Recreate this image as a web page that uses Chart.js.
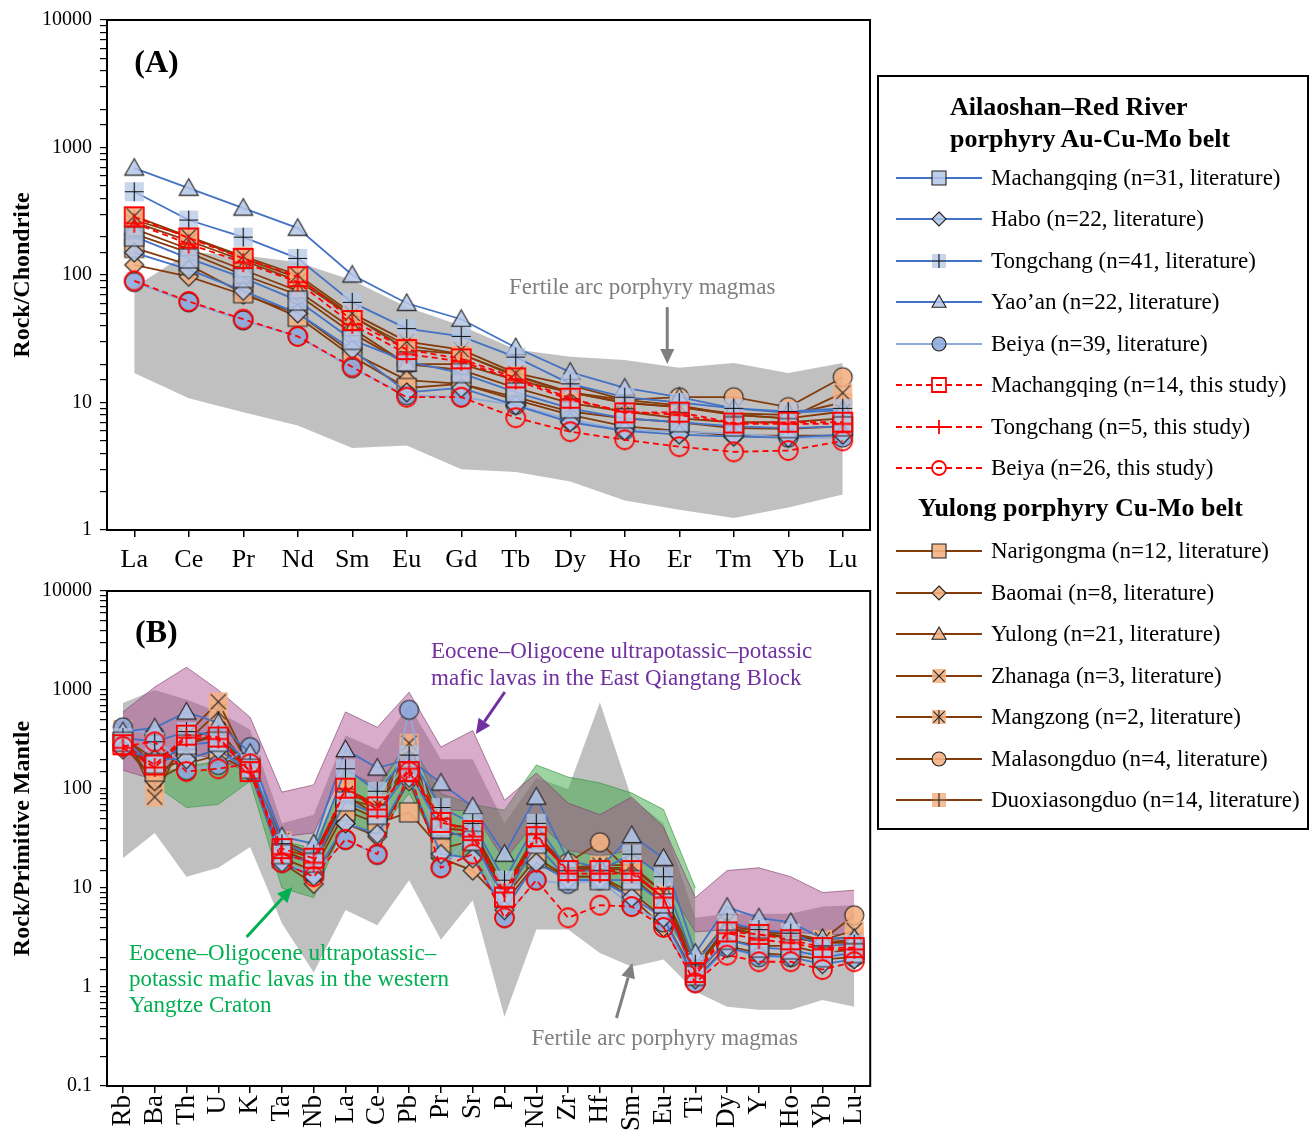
<!DOCTYPE html>
<html>
<head>
<meta charset="utf-8">
<script src="https://cdn.jsdelivr.net/npm/chart.js@4.4.1/dist/chart.umd.min.js"></script>
<style>
  html, body { margin: 0; padding: 0; background: #fff; }
  body { width: 1311px; height: 1136px; position: relative; overflow: hidden; font-family: "Liberation Serif", "Times New Roman", serif; }
  .panel { position: absolute; left: 0; width: 878px; }
  #panelA { top: 0; height: 580px; }
  #panelB { top: 570px; height: 566px; }
  #legend { position: absolute; left: 877px; top: 75px; width: 432px; height: 755px; border: 2px solid #000; box-sizing: border-box; }
  #legend .head { position: absolute; font-weight: bold; font-size: 26px; line-height: 30px; white-space: nowrap; color: #000; }
  #legend .item { position: absolute; left: 17px; height: 26px; display: flex; align-items: center; white-space: nowrap; font-size: 23px; color: #000; }
  #legend .item canvas { width: 86px; height: 22px; margin-right: 9px; }
</style>
</head>
<body>
<div id="panelA" class="panel"><canvas id="chartA"></canvas></div>
<div id="panelB" class="panel"><canvas id="chartB"></canvas></div>
<div id="legend"></div>
<script>
// ---- REE, chondrite normalised (panel A) ----
const reeLabels = ['La', 'Ce', 'Pr', 'Nd', 'Sm', 'Eu', 'Gd', 'Tb', 'Dy', 'Ho', 'Er', 'Tm', 'Yb', 'Lu'];

const reeMachangqingLit = [200, 135, 95, 63, 31, 21, 17, 12, 9, 7.5, 7, 6.5, 6.3, 6.5];
const reeHabo = [150, 110, 75, 50, 26, 12, 13, 9.5, 7, 6, 5.6, 5.4, 5.3, 5.6];
const reeTongchangLit = [450, 270, 198, 135, 61, 38, 33, 22.7, 14, 11, 10, 9, 8.5, 9];
const reeYaoan = [690, 480, 335, 233, 100, 60, 45, 27, 17.3, 13, 11, 9, 8.3, 8.7];
const reeBeiyaLit = [88, 61, 44, 33, 18.6, 11.4, 11, 9.6, 7.3, 6.1, 5.9, 5.7, 5.3, 5.3];
const reeMachangqingThis = [286, 195, 135, 97, 44, 26, 22, 15.6, 10.8, 8.3, 8.4, 6.9, 7, 7];
const reeTongchangThis = [255, 175, 125, 88, 41, 24, 21, 15, 10.5, 8.5, 8, 6.8, 6.8, 6.8];
const reeBeiyaThis = [90, 62, 45, 33, 19, 11, 11, 7.6, 5.9, 5.1, 4.5, 4.1, 4.2, 5];
const reeNarigongma = [163, 120, 72, 47, 23, 13, 14, 11, 8.5, 7.5, 7, 6.3, 6.2, 6.5];
const reeBaomai = [120, 97, 70, 50, 24.5, 15, 14, 10.5, 8, 6.5, 6, 5.5, 5.5, 5.5];
const reeYulong = [230, 160, 110, 75, 38, 20, 18, 13, 9.9, 8.5, 7.5, 7, 7, 7.5];
const reeZhanaga = [290, 200, 140, 100, 50, 30, 26, 17, 13.7, 10.5, 9.5, 8, 7.5, 11.9];
const reeMangzong = [260, 185, 130, 90, 47, 28, 24, 16, 12, 9.9, 9.2, 8, 7.5, 8.5];
const reeMalasongduo = [210, 150, 100, 70, 35, 20, 20, 15, 12, 10.5, 11, 11, 9.2, 15.8];
const reeDuoxiasongduo = [270, 200, 135, 95, 48, 26, 24, 16.4, 12, 10, 9.2, 8.2, 8, 10];

const reeFertileUpper = [80, 151, 143, 126, 91, 56, 40, 26, 22.8, 21.5, 18.7, 20.4, 17, 20.4];
const reeFertileLower = [17, 10.8, 8.4, 6.6, 4.4, 4.6, 3, 2.85, 2.4, 1.7, 1.44, 1.24, 1.5, 1.9];

// ---- trace elements, primitive mantle normalised (panel B) ----
const teLabels = ['Rb', 'Ba', 'Th', 'U', 'K', 'Ta', 'Nb', 'La', 'Ce', 'Pb', 'Pr', 'Sr', 'P', 'Nd', 'Zr', 'Hf', 'Sm', 'Eu', 'Ti', 'Dy', 'Y', 'Ho', 'Yb', 'Lu'];

const teMachangqingLit = [300, 180, 280, 300, 160, 22, 18, 75, 55, 150, 40, 30, 8, 28, 12, 12, 12, 7, 1.3, 3, 2.5, 2.4, 2, 2.2];
const teHabo = [250, 200, 200, 250, 150, 18, 13, 45, 35, 130, 22, 20, 6, 18, 12, 12, 8, 5, 1.2, 2.5, 2.1, 2, 1.7, 1.9];
const teTongchangLit = [330, 300, 380, 350, 180, 28, 22, 160, 95, 220, 65, 45, 12, 45, 15, 15, 22, 13, 1.7, 4.5, 3.8, 3.5, 2.6, 2.7];
const teYaoan = [380, 415, 600, 465, 230, 33, 28, 250, 163, 200, 115, 66, 22, 83, 19, 16, 34, 20, 2.2, 6.4, 5, 4.5, 3.1, 3.1];
const teBeiyaLit = [420, 350, 155, 175, 265, 18, 14, 30.5, 21.6, 630, 16, 36, 5, 12, 11, 12, 6.5, 4.5, 1.1, 2.5, 2, 2, 2.4, 2];
const teMachangqingThis = [280, 175, 350, 335, 150, 25, 20, 102, 66, 150, 46, 38, 8.1, 33, 15, 15, 15, 7.9, 1.4, 3.6, 3.4, 3, 2.5, 2.5];
const teTongchangThis = [260, 165, 330, 320, 150, 22, 18, 100, 62, 160, 50, 33, 9, 35, 14, 14, 14, 8, 1.3, 3.5, 3, 2.8, 2.4, 2.4];
const teBeiyaThis = [270, 300, 150, 160, 180, 18, 13, 31, 22, 150, 16, 22, 5, 12, 5, 6.7, 6.5, 4, 1.1, 2.1, 1.8, 1.8, 1.5, 1.8];
const teNarigongma = [300, 150, 200, 250, 170, 20, 15, 60, 45, 58, 25, 30, 8, 20, 13, 13, 9, 5, 1.3, 3, 2.6, 2.6, 2.2, 2.4];
const teBaomai = [280, 120, 180, 220, 150, 18, 11, 45, 33, 120, 20, 15, 7, 18, 13, 13, 8, 4, 1.2, 2.6, 2.2, 2.1, 1.9, 2];
const teYulong = [330, 200, 300, 350, 170, 25, 20, 85, 55, 180, 40, 38, 9, 35, 16, 16, 13, 7, 1.5, 4, 3.4, 3.2, 2.8, 2.8];
const teZhanaga = [400, 83, 350, 760, 170, 30, 22, 90, 70, 290, 45, 40, 10, 35, 16, 17, 17, 9, 1.8, 4.5, 3.7, 3.5, 3, 3.7];
const teMangzong = [350, 110, 300, 600, 170, 28, 20, 80, 65, 250, 40, 38, 9, 32, 15, 16, 15, 8, 1.6, 4, 3.3, 3.2, 2.8, 3];
const teMalasongduo = [350, 170, 280, 350, 160, 25, 17, 70, 50, 200, 35, 35, 8, 28, 18, 29, 14, 8, 1.5, 3.8, 3.5, 3.2, 3, 5.3];
const teDuoxiasongduo = [320, 150, 320, 400, 160, 24, 18, 100, 70, 180, 45, 40, 9, 35, 15, 16, 16, 9, 1.5, 4.2, 3.6, 3.4, 3, 3.2];

const teFertileUpper = [740, 1000, 800, 600, 400, 45, 55, 350, 250, 700, 200, 200, 45, 130, 100, 750, 80, 45, 5, 5.5, 5.5, 5.5, 6.5, 6.7];
const teFertileLower = [20, 36, 13, 16, 26, 4.4, 1.4, 6, 4.2, 12, 3, 7.5, 0.5, 3.8, 3.8, 2.2, 1.6, 1.9, 0.9, 0.63, 0.59, 0.59, 0.74, 0.63];
const teQiangtangUpper = [600, 1070, 1700, 1000, 530, 93, 110, 600, 420, 950, 265, 390, 77, 145, 72, 55, 83, 41, 8, 15, 16, 13, 9, 9.5];
const teQiangtangLower = [155, 124, 230, 200, 145, 33, 36, 165, 98, 310, 62, 60, 19, 48, 24, 21, 24, 12, 3.6, 3.8, 3.8, 3.6, 3.4, 3.4];
const teYangtzeUpper = [null, 140, 170, 190, 220, 30, 25, 150, 110, 300, 90, 70, 61, 175, 132, 115, 91, 62, 10, null, null, null, null, null];
const teYangtzeLower = [null, 110, 65, 70, 120, 10, 8, 48, 35, 90, 25, 18, 8, 20, 12, 12, 9, 5, 1.8, null, null, null, null, null];

// ---- styles ----
const FONT = '"Liberation Serif", "Times New Roman", serif';
const BLUE = '#4472c4', BLUE_LIGHT = '#8eaadb', RED = '#ff0000', BROWN = '#843c0c';
const BLUE_FILL = 'rgba(180,199,231,0.85)', BLUE_BOX = 'rgba(180,199,231,0.75)', BLUE_DOT = 'rgba(143,170,220,0.9)';
const ORANGE_FILL = 'rgba(244,177,131,0.9)', ORANGE_BOX = 'rgba(244,177,131,0.85)';

function marker(shape, fill, edge, size, lw) {
  const pad = 2;
  const c = document.createElement('canvas');
  c.width = c.height = Math.ceil(size + pad * 2);
  const g = c.getContext('2d');
  const m = c.width / 2, h = size / 2;
  g.lineWidth = lw;
  g.strokeStyle = edge;
  g.fillStyle = fill;
  const plus = () => { g.beginPath(); g.moveTo(m, m - h); g.lineTo(m, m + h); g.moveTo(m - h, m); g.lineTo(m + h, m); g.stroke(); };
  const cross = () => { const k = h * 0.8; g.beginPath(); g.moveTo(m - k, m - k); g.lineTo(m + k, m + k); g.moveTo(m + k, m - k); g.lineTo(m - k, m + k); g.stroke(); };
  g.beginPath();
  switch (shape) {
    case 'square': g.rect(m - h, m - h, size, size); g.fill(); g.stroke(); break;
    case 'openSquare': g.rect(m - h, m - h, size, size); g.stroke(); break;
    case 'diamond': g.moveTo(m, m - h); g.lineTo(m + h, m); g.lineTo(m, m + h); g.lineTo(m - h, m); g.closePath(); g.fill(); g.stroke(); break;
    case 'triangle': g.moveTo(m, m - h); g.lineTo(m + h, m + h * 0.75); g.lineTo(m - h, m + h * 0.75); g.closePath(); g.fill(); g.stroke(); break;
    case 'circle': g.arc(m, m, h, 0, Math.PI * 2); g.fill(); g.stroke(); break;
    case 'openCircle': g.arc(m, m, h, 0, Math.PI * 2); g.stroke(); break;
    case 'plus': plus(); break;
    case 'plusBox': g.fillRect(m - h, m - h, size, size); plus(); break;
    case 'xBox': g.fillRect(m - h, m - h, size, size); cross(); break;
    case 'starBox': g.fillRect(m - h, m - h, size, size); cross(); g.beginPath(); g.moveTo(m, m - h); g.lineTo(m, m + h); g.stroke(); break;
  }
  return c;
}

const series = [
  { name: 'Machangqing (n=31, literature)', ree: reeMachangqingLit, te: teMachangqingLit, shape: 'square', fill: BLUE_FILL, edge: '#222', line: BLUE, dash: [], order: 2 },
  { name: 'Habo (n=22, literature)', ree: reeHabo, te: teHabo, shape: 'diamond', fill: BLUE_FILL, edge: '#222', line: BLUE, dash: [], order: 2 },
  { name: 'Tongchang (n=41, literature)', ree: reeTongchangLit, te: teTongchangLit, shape: 'plusBox', fill: BLUE_BOX, edge: '#111', line: BLUE, dash: [], order: 2 },
  { name: 'Yao\u2019an (n=22, literature)', ree: reeYaoan, te: teYaoan, shape: 'triangle', fill: BLUE_FILL, edge: '#222', line: BLUE, dash: [], order: 2 },
  { name: 'Beiya (n=39, literature)', ree: reeBeiyaLit, te: teBeiyaLit, shape: 'circle', fill: BLUE_DOT, edge: '#222', line: BLUE_LIGHT, dash: [], order: 2 },
  { name: 'Machangqing (n=14, this study)', ree: reeMachangqingThis, te: teMachangqingThis, shape: 'openSquare', fill: 'rgba(0,0,0,0)', edge: RED, line: RED, dash: [6, 4], order: 1 },
  { name: 'Tongchang (n=5, this study)', ree: reeTongchangThis, te: teTongchangThis, shape: 'plus', fill: 'rgba(0,0,0,0)', edge: RED, line: RED, dash: [6, 4], order: 1 },
  { name: 'Beiya (n=26, this study)', ree: reeBeiyaThis, te: teBeiyaThis, shape: 'openCircle', fill: 'rgba(0,0,0,0)', edge: RED, line: RED, dash: [6, 4], order: 1 },
  { name: 'Narigongma (n=12, literature)', ree: reeNarigongma, te: teNarigongma, shape: 'square', fill: ORANGE_FILL, edge: '#222', line: BROWN, dash: [], order: 3 },
  { name: 'Baomai (n=8, literature)', ree: reeBaomai, te: teBaomai, shape: 'diamond', fill: ORANGE_FILL, edge: '#222', line: BROWN, dash: [], order: 3 },
  { name: 'Yulong (n=21, literature)', ree: reeYulong, te: teYulong, shape: 'triangle', fill: ORANGE_FILL, edge: '#222', line: BROWN, dash: [], order: 3 },
  { name: 'Zhanaga (n=3, literature)', ree: reeZhanaga, te: teZhanaga, shape: 'xBox', fill: ORANGE_BOX, edge: '#222', line: BROWN, dash: [], order: 3 },
  { name: 'Mangzong (n=2, literature)', ree: reeMangzong, te: teMangzong, shape: 'starBox', fill: ORANGE_BOX, edge: '#222', line: BROWN, dash: [], order: 3 },
  { name: 'Malasongduo (n=4, literature)', ree: reeMalasongduo, te: teMalasongduo, shape: 'circle', fill: ORANGE_FILL, edge: '#222', line: BROWN, dash: [], order: 3 },
  { name: 'Duoxiasongduo (n=14, literature)', ree: reeDuoxiasongduo, te: teDuoxiasongduo, shape: 'plusBox', fill: ORANGE_BOX, edge: '#222', line: BROWN, dash: [], order: 3 }
];

series.forEach(s => {
  const lw = s.edge === RED ? 1.8 : 1.1;
  s.big = marker(s.shape, s.fill, s.edge, 19, lw);
  s.small = marker(s.shape, s.fill, s.edge, 14, lw);
});

function lineSets(key) {
  return series.map(s => ({
    label: s.name,
    data: s[key],
    borderColor: s.line,
    borderWidth: 1.8,
    borderDash: s.dash,
    pointStyle: s.big,
    pointRadius: 6,
    fill: false,
    tension: 0,
    order: s.order
  }));
}

function band(upper, lower, color, edge, order) {
  return [
    { data: upper, fill: '+1', backgroundColor: color, borderColor: edge, borderWidth: edge ? 1 : 0, pointRadius: 0, order },
    { data: lower, fill: false, borderColor: edge, borderWidth: edge ? 1 : 0, pointRadius: 0, order }
  ];
}

const isPow10 = v => Math.abs(Math.log10(v) - Math.round(Math.log10(v))) < 1e-9;

function axisX(rotate) {
  return {
    type: 'category', offset: true,
    grid: { display: true, drawOnChartArea: false, offset: false, tickLength: 7, color: '#000', lineWidth: 1.5 },
    border: { display: true, color: '#000', width: 2 },
    ticks: { color: '#000', font: { family: FONT, size: rotate ? 27 : 26 }, padding: rotate ? 2 : 8, autoSkip: false, minRotation: rotate ? 90 : 0, maxRotation: rotate ? 90 : 0 },
    afterFit: s => { s.height = 50; s.paddingLeft = 0; s.paddingRight = 0; }
  };
}

function axisY(min, max, title) {
  return {
    type: 'logarithmic', min, max,
    grid: { display: true, drawOnChartArea: false, tickLength: 7, color: '#000', lineWidth: 1.2 },
    border: { display: true, color: '#000', width: 2 },
    ticks: { autoSkip: false, color: '#000', font: { family: FONT, size: 20 }, padding: 8, callback: v => (isPow10(v) ? String(v) : '') },
    title: { display: true, text: title, color: '#000', font: { family: FONT, size: 24, weight: 'bold' }, padding: { top: 8, bottom: 0 } },
    afterFit: s => { s.width = 107; }
  };
}

const framePlugin = {
  id: 'frame',
  afterDraw(chart) {
    const a = chart.chartArea, ctx = chart.ctx;
    ctx.save();
    ctx.strokeStyle = '#000';
    ctx.lineWidth = 2;
    ctx.strokeRect(a.left, a.top, a.right - a.left, a.bottom - a.top);
    ctx.restore();
  }
};

function notesPlugin(notes) {
  return {
    id: 'notes',
    afterDatasetsDraw(chart) {
      const ctx = chart.ctx, sx = chart.scales.x, sy = chart.scales.y;
      const at = (i, v) => [sx.getPixelForValue(i), sy.getPixelForValue(v)];
      ctx.save();
      notes.forEach(n => {
        if (n.text) {
          const [px, py] = at(n.i, n.v);
          ctx.font = n.font;
          ctx.fillStyle = n.color;
          ctx.textAlign = n.align || 'left';
          ctx.textBaseline = 'alphabetic';
          n.text.forEach((line, k) => ctx.fillText(line, px, py + k * (n.lh || 0)));
        } else {
          const [x1, y1] = at(n.from[0], n.from[1]);
          const [x2, y2] = at(n.to[0], n.to[1]);
          const ang = Math.atan2(y2 - y1, x2 - x1), L = 15, W = 7;
          const bx = x2 - L * Math.cos(ang), by = y2 - L * Math.sin(ang);
          ctx.strokeStyle = n.color;
          ctx.fillStyle = n.color;
          ctx.lineWidth = 3;
          ctx.beginPath(); ctx.moveTo(x1, y1); ctx.lineTo(bx, by); ctx.stroke();
          ctx.beginPath();
          ctx.moveTo(x2, y2);
          ctx.lineTo(bx + W * Math.sin(ang), by - W * Math.cos(ang));
          ctx.lineTo(bx - W * Math.sin(ang), by + W * Math.cos(ang));
          ctx.closePath(); ctx.fill();
        }
      });
      ctx.restore();
    }
  };
}

const GREY_TXT = '#7f7f7f', PURPLE = '#7030a0', GREEN = '#00b050';
const NOTE_FONT = '23px ' + FONT, TAG_FONT = 'bold 32px ' + FONT;

const notesA = [
  { text: ['(A)'], i: 0, v: 3900, font: TAG_FONT, color: '#000' },
  { text: ['Fertile arc porphyry magmas'], i: 9.32, v: 71, font: NOTE_FONT, color: GREY_TXT, align: 'center' },
  { from: [9.78, 56], to: [9.78, 20], color: GREY_TXT }
];

const notesB = [
  { text: ['(B)'], i: 0.38, v: 3050, font: TAG_FONT, color: '#000' },
  { text: ['Eocene\u2013Oligocene ultrapotassic\u2013potassic', 'mafic lavas in the East Qiangtang Block'], i: 9.69, v: 2104, lh: 27, font: NOTE_FONT, color: PURPLE },
  { from: [12.01, 955], to: [11.1, 359], color: PURPLE },
  { text: ['Eocene\u2013Oligocene ultrapotassic\u2013', 'potassic mafic lavas in the western', 'Yangtze Craton'], i: 0.19, v: 1.87, lh: 26, font: NOTE_FONT, color: GREEN },
  { from: [3.89, 3.2], to: [5.33, 10.2], color: GREEN },
  { text: ['Fertile arc porphyry magmas'], i: 12.85, v: 0.26, font: NOTE_FONT, color: GREY_TXT },
  { from: [15.52, 0.486], to: [16.02, 1.75], color: GREY_TXT }
];

Chart.defaults.font.family = FONT;

new Chart(document.getElementById('chartA'), {
  type: 'line',
  data: {
    labels: reeLabels,
    datasets: [
      ...lineSets('ree'),
      ...band(reeFertileUpper, reeFertileLower, 'rgba(140,140,140,0.55)', null, 20)
    ]
  },
  options: {
    responsive: true, maintainAspectRatio: false, animation: false,
    layout: { padding: { top: 20, right: 8, left: 0, bottom: 0 } },
    plugins: { legend: { display: false }, tooltip: { enabled: false } },
    scales: { x: axisX(false), y: axisY(1, 10000, 'Rock/Chondrite') }
  },
  plugins: [framePlugin, notesPlugin(notesA)]
});

new Chart(document.getElementById('chartB'), {
  type: 'line',
  data: {
    labels: teLabels,
    datasets: [
      ...lineSets('te'),
      ...band(teFertileUpper, teFertileLower, 'rgba(140,140,140,0.55)', null, 20),
      ...band(teYangtzeUpper, teYangtzeLower, 'rgba(60,170,70,0.5)', 'rgba(40,140,60,0.6)', 19),
      ...band(teQiangtangUpper, teQiangtangLower, 'rgba(170,70,140,0.45)', 'rgba(120,60,100,0.6)', 18)
    ]
  },
  options: {
    responsive: true, maintainAspectRatio: false, animation: false,
    layout: { padding: { top: 21, right: 3, left: 0, bottom: 0 } },
    plugins: { legend: { display: false }, tooltip: { enabled: false } },
    scales: { x: axisX(true), y: axisY(0.1, 10000, 'Rock/Primitive Mantle') }
  },
  plugins: [framePlugin, notesPlugin(notesB)]
});

// ---- legend box ----
const legend = document.getElementById('legend');
const heads = [
  { text: 'Ailaoshan\u2013Red River', x: 71, y: 15 },
  { text: 'porphyry Au-Cu-Mo belt', x: 71, y: 47 },
  { text: 'Yulong porphyry Cu-Mo belt', x: 39, y: 416 }
];
heads.forEach(h => {
  const d = document.createElement('div');
  d.className = 'head';
  d.textContent = h.text;
  d.style.left = h.x + 'px';
  d.style.top = h.y + 'px';
  legend.appendChild(d);
});
const rowCentres = [178, 219, 261, 302, 344, 385, 427, 468, 551, 593, 634, 676, 717, 759, 800];
series.forEach((s, k) => {
  const row = document.createElement('div');
  row.className = 'item';
  row.style.top = (rowCentres[k] - 13 - 77) + 'px';
  const c = document.createElement('canvas');
  c.width = 86; c.height = 22;
  const g = c.getContext('2d');
  g.strokeStyle = s.line;
  g.lineWidth = 1.8;
  g.setLineDash(s.dash);
  g.beginPath(); g.moveTo(0, 11); g.lineTo(86, 11); g.stroke();
  g.setLineDash([]);
  g.drawImage(s.small, 43 - s.small.width / 2, 11 - s.small.height / 2);
  row.appendChild(c);
  const t = document.createElement('span');
  t.textContent = s.name;
  row.appendChild(t);
  legend.appendChild(row);
});
</script>
</body>
</html>
